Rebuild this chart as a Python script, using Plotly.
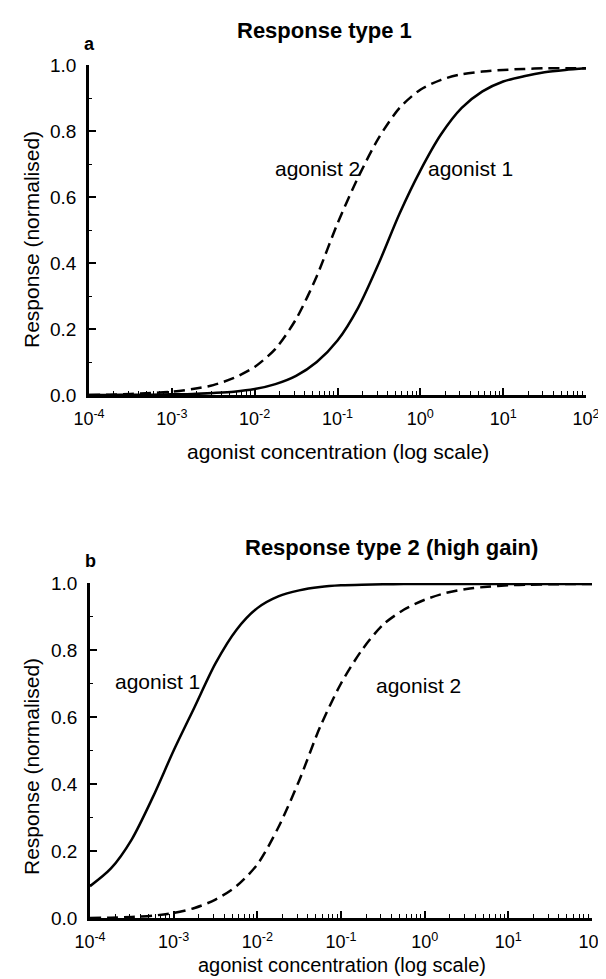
import plotly.graph_objects as go

# concentrations on a quarter-decade grid (log scale) and normalised responses
conc = [1e-4, 1.78e-4, 3.16e-4, 5.62e-4, 1e-3, 1.78e-3, 3.16e-3, 5.62e-3, 1e-2, 1.78e-2,
        3.16e-2, 5.62e-2, 1e-1, 1.78e-1, 3.16e-1, 5.62e-1, 1, 1.78, 3.16, 5.62,
        10, 17.8, 31.6, 56.2, 100]

# panel a: response type 1
resp_a1 = [0.0, 0.0, 0.001, 0.001, 0.002, 0.003, 0.006, 0.010, 0.018, 0.033,
           0.058, 0.10, 0.165, 0.265, 0.40, 0.55, 0.68, 0.79, 0.87, 0.92,
           0.95, 0.966, 0.978, 0.985, 0.99]
resp_a2 = [0.0, 0.001, 0.003, 0.006, 0.010, 0.018, 0.030, 0.052, 0.085, 0.14,
           0.23, 0.36, 0.52, 0.66, 0.78, 0.87, 0.925, 0.955, 0.972, 0.98,
           0.985, 0.988, 0.99, 0.99, 0.99]

# panel b: response type 2 (high gain)
resp_b1 = [0.095, 0.148, 0.235, 0.36, 0.50, 0.63, 0.76, 0.86, 0.925, 0.96,
           0.978, 0.988, 0.993, 0.995, 0.996, 0.997, 0.997, 0.997, 0.997, 0.997,
           0.997, 0.997, 0.997, 0.997, 0.997]
resp_b2 = [0.0, 0.001, 0.003, 0.007, 0.015, 0.03, 0.055, 0.095, 0.16, 0.27,
           0.41, 0.57, 0.70, 0.80, 0.875, 0.92, 0.95, 0.97, 0.982, 0.989,
           0.993, 0.995, 0.996, 0.997, 0.997]

x_ticks = [1e-4, 1e-3, 1e-2, 1e-1, 1, 10, 100]
x_labels = ["10<sup>-4</sup>", "10<sup>-3</sup>", "10<sup>-2</sup>", "10<sup>-1</sup>",
            "10<sup>0</sup>", "10<sup>1</sup>", "10<sup>2</sup>"]
x_minor = [m * 10.0 ** e for e in range(-4, 2) for m in range(2, 10)]
y_ticks = [0, 0.2, 0.4, 0.6, 0.8, 1.0]
y_labels = ["0.0", "0.2", "0.4", "0.6", "0.8", "1.0"]

FONT = "Liberation Sans, Arial, sans-serif"
W, H = 606, 979

fig = go.Figure()

line_solid = dict(color="black", width=2.5, shape="spline", smoothing=0.8)
line_dash = dict(color="black", width=2.5, dash="11px,6px", shape="spline", smoothing=0.8)

fig.add_trace(go.Scatter(x=conc, y=resp_a1, mode="lines", line=line_solid, xaxis="x", yaxis="y"))
fig.add_trace(go.Scatter(x=conc, y=resp_a2, mode="lines", line=line_dash, xaxis="x", yaxis="y"))
fig.add_trace(go.Scatter(x=conc, y=resp_b1, mode="lines", line=line_solid, xaxis="x2", yaxis="y2"))
fig.add_trace(go.Scatter(x=conc, y=resp_b2, mode="lines", line=line_dash, xaxis="x2", yaxis="y2"))


def xaxis(domain, anchor):
    return dict(type="log", range=[-4, 2], domain=domain, anchor=anchor, automargin=False,
                tickvals=x_ticks, ticktext=x_labels, ticks="inside", ticklen=7,
                tickwidth=1.5, tickcolor="black", ticklabelstandoff=6,
                minor=dict(tickvals=x_minor, ticks="inside", ticklen=4, tickwidth=1.2,
                           tickcolor="black", showgrid=False),
                showline=True, linewidth=2.5, linecolor="black", showgrid=False, zeroline=False,
                tickfont=dict(family=FONT, size=18, color="black"))


def yaxis(domain, anchor):
    return dict(range=[0, 1], domain=domain, anchor=anchor, automargin=False,
                tickvals=y_ticks, ticktext=y_labels, ticks="inside", ticklen=7,
                tickwidth=1.5, tickcolor="black", ticklabelstandoff=6,
                minor=dict(ticks="inside", ticklen=3, tickwidth=1.2, tickcolor="black",
                           dtick=0.1, showgrid=False),
                showline=True, linewidth=2.5, linecolor="black", showgrid=False, zeroline=False,
                tickfont=dict(family=FONT, size=19, color="black"))


def px(v):
    return v / W


def py(v):
    return 1 - v / H


fig.update_layout(
    width=W, height=H,
    margin=dict(l=0, r=0, t=0, b=0),
    paper_bgcolor="white", plot_bgcolor="white",
    showlegend=False,
    xaxis=xaxis([px(81), px(578)], "y"),
    yaxis=yaxis([py(387), py(57)], "x"),
    xaxis2=xaxis([px(82), px(584)], "y2"),
    yaxis2=yaxis([py(910), py(575)], "x2"),
)

texts = [
    ("<b>Response type 1</b>", 317, 23, 22, 0),
    ("<b>a</b>", 81, 36, 18, 0),
    ("agonist concentration (log scale)", 330, 443, 21, 0),
    ("Response (normalised)", 23, 232, 21, -90),
    ("agonist 2", 309, 160, 21, 0),
    ("agonist 1", 462, 160, 21, 0),
    ("<b>Response type 2 (high gain)</b>", 383, 539, 22, 0),
    ("<b>b</b>", 82, 553, 18, 0),
    ("agonist concentration (log scale)", 334, 957, 20, 0),
    ("Response (normalised)", 23, 759, 21, -90),
    ("agonist 1", 149, 673, 21, 0),
    ("agonist 2", 410, 677, 21, 0),
]
for t, x, y, s, ang in texts:
    fig.add_annotation(text=t, x=px(x), y=py(y), xref="paper", yref="paper",
                       xanchor="center", yanchor="middle", showarrow=False, textangle=ang,
                       font=dict(family=FONT, size=s, color="black"))

fig.write_html("out.html")
